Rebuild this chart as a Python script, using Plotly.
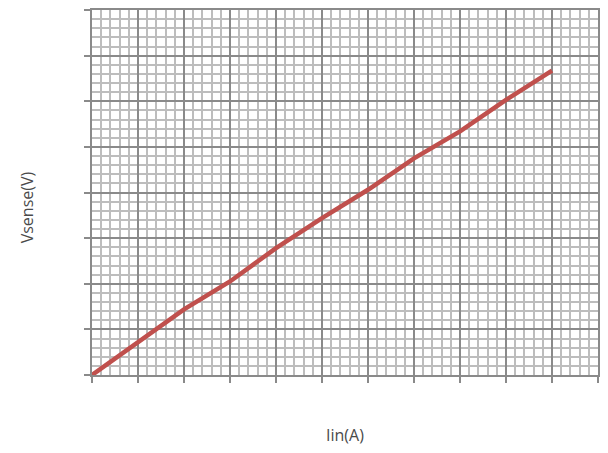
import plotly.graph_objects as go

# Current sense characteristic: input current vs. sense voltage
iin = [0, 1, 2, 3, 4, 5, 6, 7, 8, 9, 10]
vsense = [0, 0.72, 1.44, 2.05, 2.78, 3.44, 4.06, 4.75, 5.34, 6.03, 6.67]

x_title = "Iin(A)"
y_title = "Vsense(V)"

major_col = "#8a8a8a"
minor_col = "#bdbdbd"

fig = go.Figure()
fig.add_trace(go.Scatter(
    x=iin, y=vsense, mode="lines",
    line=dict(color="#c0504d", width=4.5),
    showlegend=False, hoverinfo="skip",
))

axis_common = dict(
    showticklabels=False,
    showgrid=True, gridcolor=major_col, gridwidth=2,
    zeroline=False,
    showline=True, linecolor=major_col, linewidth=2, mirror=True,
    ticks="outside", ticklen=6, tickcolor=major_col, tickwidth=2,
    layer="below traces",
)

fig.update_xaxes(
    range=[0, 11], dtick=1, tick0=0,
    minor=dict(dtick=0.2, tick0=0, showgrid=True, gridcolor=minor_col, gridwidth=2, ticks=""),
    **axis_common,
)
fig.update_yaxes(
    range=[0, 8], dtick=1, tick0=0,
    minor=dict(dtick=0.2, tick0=0, showgrid=True, gridcolor=minor_col, gridwidth=2, ticks=""),
    **axis_common,
)

font = dict(family="Open Sans, Noto Sans, sans-serif", size=16, color="#4a4a4a")
fig.add_annotation(text=x_title, xref="paper", yref="paper", x=0.5, y=-0.165,
                   xanchor="center", yanchor="middle", showarrow=False, font=font)
fig.add_annotation(text=y_title, xref="paper", yref="paper", x=-0.128, y=0.46,
                   xanchor="center", yanchor="middle", textangle=-90, showarrow=False, font=font)

fig.update_layout(
    width=608, height=453,
    margin=dict(l=92, r=8, t=10, b=78),
    paper_bgcolor="white", plot_bgcolor="white",
)

fig.write_html("out.html")
